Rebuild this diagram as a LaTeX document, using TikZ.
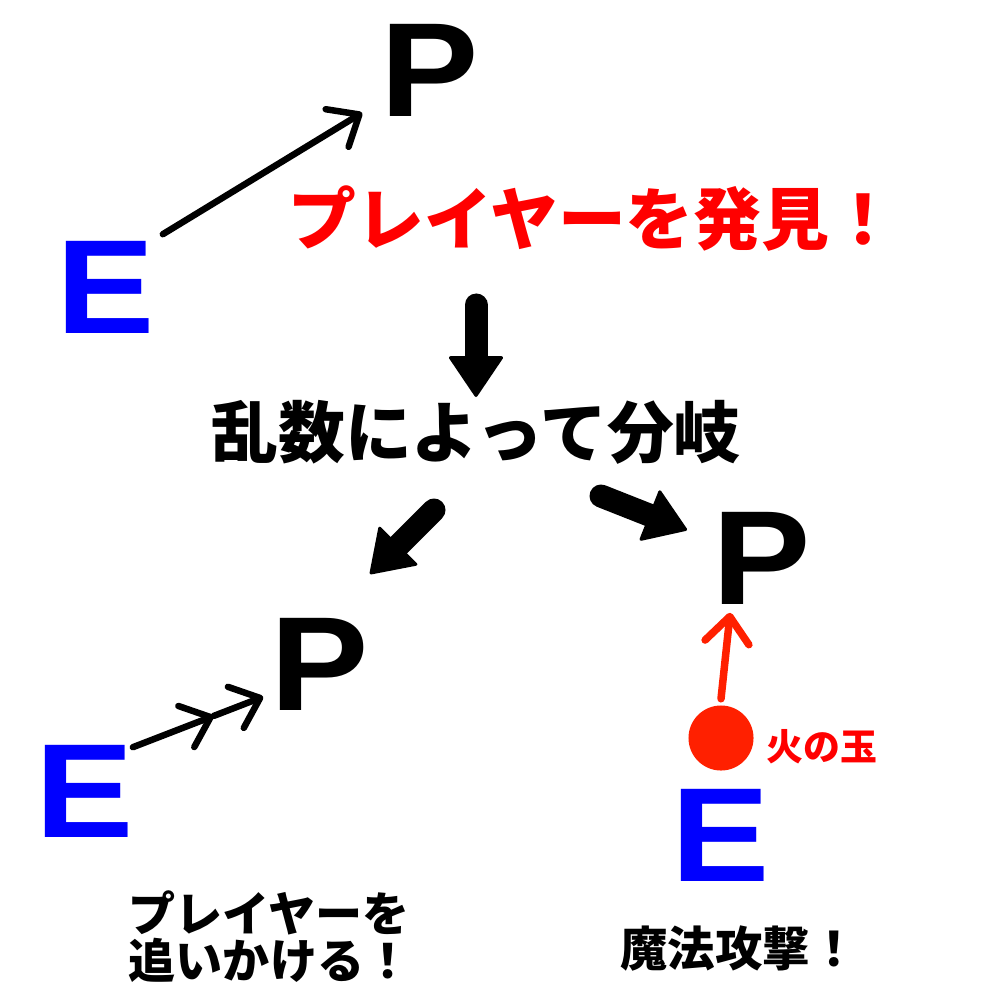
\documentclass[tikz,border=0pt]{standalone}
\usepackage{fontspec}
\usetikzlibrary{arrows.meta,calc}
\newfontfamily\jpfont{Noto Sans CJK JP}
\newfontfamily\letterfont{Liberation Sans}[FakeStretch=1.1]
\definecolor{EnemyBlue}{HTML}{0000FF}
\definecolor{AlertRed}{HTML}{FF0000}
\definecolor{FireRed}{HTML}{FF2000}

\begin{document}
\begin{tikzpicture}[x=0.01cm,y=-0.01cm,
    letter/.style={inner sep=0pt,
      font=\letterfont\bfseries\fontsize{38.1}{40}\selectfont},
    enemy/.style={letter,text=EnemyBlue},
    player/.style={letter,text=black},
    jptext/.style={inner sep=0pt,
      font=\jpfont\bfseries\fontsize{#1}{#1}\selectfont},
    thinarrow/.style={line width=0.065cm,line cap=round,
      -{Straight Barb[length=0.26cm,width=0.44cm,round]}},
    firearrow/.style={thinarrow,draw=FireRed,line width=0.075cm},
    blockarrow/.style={line width=0.23cm,line cap=round,
      -{Triangle[width=0.56cm,length=0.42cm,round,line width=0.03cm]}}]
  \useasboundingbox (0,0) rectangle (1000,1000);

  \node[player] (pTop) at (430,70) {P};
  \node[enemy] (eTop) at (106,287) {E};
  \draw[thinarrow] ([shift={(7,-6)}]eTop.north east)
    -- ([shift={(-18,-4)}]pTop.south west);

  \node[jptext=19.3,text=AlertRed] (found) at (593,219) {プレイヤーを発見！};
  \node[jptext=19] (branch) at (476,432) {乱数によって分岐};

  \coordinate (downFrom) at (476,305);
  \coordinate (downTo) at (476,397);
  \coordinate (leftFrom) at (434,510);
  \coordinate (leftTo) at (370,574);
  \coordinate (rightFrom) at (601,496);
  \coordinate (rightTo) at (687,530);
  \draw[blockarrow] (downFrom) -- (downTo);
  \draw[blockarrow] (leftFrom) -- (leftTo);
  \draw[blockarrow] (rightFrom) -- (rightTo);

  \node[player] (pLeft) at (320,664) {P};
  \node[enemy] (eLeft) at (85,791) {E};
  \coordinate (chaseFrom) at ([shift={(-2,3)}]eLeft.north east);
  \coordinate (chaseTo) at ([shift={(-7,-14)}]pLeft.south west);
  \coordinate (chaseMid) at ($(chaseFrom)!0.62!(chaseTo)$);
  \draw[thinarrow] (chaseFrom) -- (chaseMid);
  \draw[thinarrow] (chaseMid) -- (chaseTo);
  \node[jptext=13.4,align=left,anchor=west] (chase) at (128,937)
    {プレイヤーを\\追いかける！};

  \node[player] (pRight) at (762,558) {P};
  \node[circle,fill=FireRed,minimum size=0.65cm,inner sep=0pt] (fire)
    at (721,738) {};
  \node[jptext=10.5,text=AlertRed] (fireLabel) at (822,747) {火の玉};
  \node[enemy] (eRight) at (721,835) {E};
  \draw[firearrow] ([shift={(0,-6)}]fire.north)
    -- ([shift={(18,8)}]pRight.south west);
  \node[jptext=13.5] (magic) at (739,948) {魔法攻撃！};
\end{tikzpicture}
\end{document}
